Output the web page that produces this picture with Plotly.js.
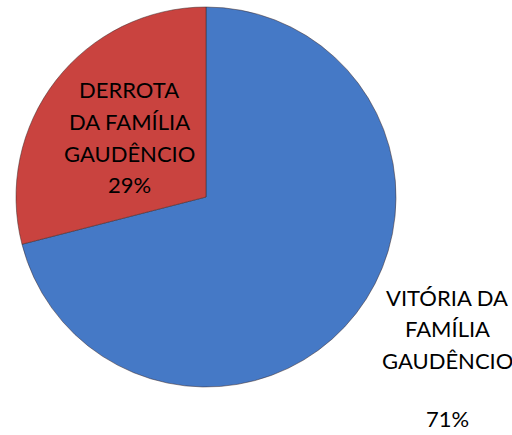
<!DOCTYPE html>
<html><head><meta charset="utf-8">
<script src="https://cdn.plot.ly/plotly-3.0.1.min.js"></script>
<style>body{margin:0;background:#fff}#c{width:512px;height:435px}</style>
</head><body><div id="c"></div>
<script>
const categories = ["VITÓRIA DA FAMÍLIA GAUDÊNCIO", "DERROTA DA FAMÍLIA GAUDÊNCIO"];
const labelLines = [["VITÓRIA DA", "FAMÍLIA", "GAUDÊNCIO"], ["DERROTA", "DA FAMÍLIA", "GAUDÊNCIO"]];
const values = [71, 29];
const colors = ["#4579C6", "#C9433F"];

const total = values.reduce((a, b) => a + b, 0);
const pct = values.map(v => Math.round(v / total * 100) + "%");

// label anchor positions (paper px), line spacing, percent-line position
const anchors = [{x: 447, y: 297, py: 418}, {x: 129, y: 90, py: 184.5}];
const lineGap = 31.5;
const W = 512, H = 435;
const font = {family: "Lato, 'Open Sans', sans-serif", size: 22, color: "#000"};
const annotations = [];
labelLines.forEach((lines, i) => {
  lines.forEach((t, k) => {
    annotations.push({
      text: t, showarrow: false, xref: "paper", yref: "paper",
      x: anchors[i].x / W, y: 1 - (anchors[i].y + k * lineGap) / H,
      xanchor: "center", yanchor: "middle", font: font
    });
  });
  annotations.push({
    text: pct[i], showarrow: false, xref: "paper", yref: "paper",
    x: anchors[i].x / W, y: 1 - anchors[i].py / H,
    xanchor: "center", yanchor: "middle", font: font
  });
});

const cx = 206, cy = 197, r = 190;
Plotly.newPlot("c", [{
  type: "pie", labels: categories, values: values, sort: false,
  direction: "clockwise", rotation: 0, textinfo: "none", hoverinfo: "label+percent",
  marker: {colors: colors, line: {color: "rgba(60,40,40,0.5)", width: 1}},
  domain: {x: [(cx - r) / W, (cx + r) / W], y: [1 - (cy + r) / H, 1 - (cy - r) / H]},
  showlegend: false
}], {
  width: W, height: H, margin: {l: 0, r: 0, t: 0, b: 0},
  paper_bgcolor: "#fff", annotations: annotations
}, {displayModeBar: false, staticPlot: true});
</script></body></html>
